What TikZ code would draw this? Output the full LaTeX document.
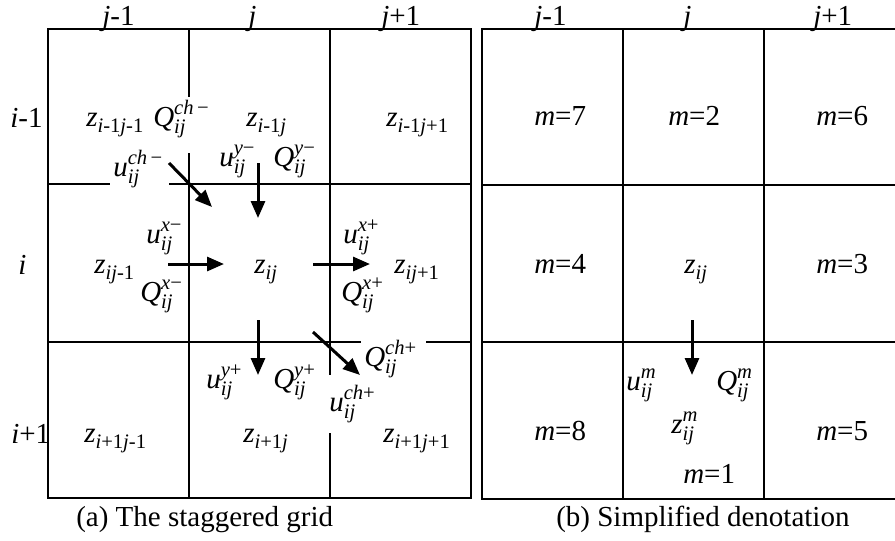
\documentclass[tikz,border=0pt]{standalone}
\usepackage{fontspec}
\setmainfont{Liberation Serif}
\usetikzlibrary{arrows.meta}
\newcommand\subsz{\fontsize{10.3}{11}\selectfont}
\newcommand\Sb[2]{\textit{#1}\mbox{\subsz\lower3pt\hbox{#2}}}
\newcommand\SbSp[3]{\textit{#1}\mbox{\subsz\setbox0=\hbox{#2}\setbox2=\hbox{#3}\dimen0=\ifdim\wd0>\wd2 \wd0\else\wd2\fi\raise6pt\copy0\kern-\wd0\lower3.8pt\copy2\kern-\wd2\kern\dimen0}}
\newcommand\ijx{\textit{ij}}
\begin{document}
\begin{tikzpicture}[x=0.5pt,y=-0.5pt, line width=1.3pt,
  lbl/.style={anchor=base west, inner sep=0pt, font=\fontsize{14.5}{16}\selectfont},
  arr/.style={line width=1.5pt, -{Triangle[length=8.5pt,width=7pt]}}]
\useasboundingbox (0,0) rectangle (895,541);
% ---------- left grid ----------
\draw (48,29) rectangle (471,498);
\draw (189,29) -- (189,97);
\draw (189,153) -- (189,498);
\draw (330,29) -- (330,375);
\draw (330,433) -- (330,498);
\draw (48,184) -- (110,184);
\draw (169,184) -- (471,184);
\draw (48,342) -- (361,342);
\draw (426,342) -- (471,342);
% ---------- right grid ----------
\draw (900,29) -- (482,29) -- (482,499) -- (900,499);
\draw (623,29) -- (623,499);
\draw (764,29) -- (764,499);
\draw (482,185) -- (900,185);
\draw (482,342) -- (900,342);
% ---------- arrows ----------
\coordinate (chms) at (169,163); \coordinate (chme) at (212,207);
\coordinate (yms) at (258,163);  \coordinate (yme) at (258,218);
\coordinate (xms) at (168,264);  \coordinate (xme) at (224,264);
\coordinate (xps) at (313,264);  \coordinate (xpe) at (370,264);
\coordinate (yps) at (258,320);  \coordinate (ype) at (258,375);
\coordinate (chps) at (313,332); \coordinate (chpe) at (360,375);
\coordinate (ms) at (692,320);   \coordinate (me) at (692,375);
\draw[arr] (chms) -- (chme);
\draw[arr] (yms) -- (yme);
\draw[arr] (xms) -- (xme);
\draw[arr] (xps) -- (xpe);
\draw[arr] (yps) -- (ype);
\draw[arr] (chps) -- (chpe);
\draw[arr] (ms) -- (me);
% ---------- left labels ----------
\node[lbl] (lj1) at (101,25) {\textit{j}-1};
\node[lbl] (lj2) at (247,25) {\textit{j}};
\node[lbl] (lj3) at (380,25) {\textit{j}+1};
\node[lbl] (li1) at (9,127) {\textit{i}-1};
\node[lbl] (li2) at (17,274) {\textit{i}};
\node[lbl] (li3) at (10,443) {\textit{i}+1};
\node[lbl] (z11) at (85,126) {\Sb{z}{\textit{i}-1\textit{j}-1}};
\node[lbl] (qchm) at (152,126) {\SbSp{Q}{\textit{ch}\,−}{\ijx}};
\node[lbl] (z12) at (245,126) {\Sb{z}{\textit{i}-1\textit{j}}};
\node[lbl] (z13) at (385,126) {\Sb{z}{\textit{i}-1\textit{j}+1}};
\node[lbl] (uchm) at (112,176) {\SbSp{u}{\textit{ch}\,−}{\ijx}};
\node[lbl] (uym) at (218,166) {\SbSp{u}{\textit{y}−}{\ijx}};
\node[lbl] (qym) at (272,166) {\SbSp{Q}{\textit{y}−}{\ijx}};
\node[lbl] (uxm) at (145,243) {\SbSp{u}{\textit{x}−}{\ijx}};
\node[lbl] (z21) at (93,273) {\Sb{z}{\textit{ij}-1}};
\node[lbl] (qxm) at (139,301) {\SbSp{Q}{\textit{x}−}{\ijx}};
\node[lbl] (z22) at (253,273) {\Sb{z}{\ijx}};
\node[lbl] (uxp) at (342,243) {\SbSp{u}{\textit{x}+}{\ijx}};
\node[lbl] (z23) at (393,273) {\Sb{z}{\textit{ij}+1}};
\node[lbl] (qxp) at (340,301) {\SbSp{Q}{\textit{x}+}{\ijx}};
\node[lbl] (qchp) at (363,366) {\SbSp{Q}{\textit{ch}+}{\ijx}};
\node[lbl] (uyp) at (205,388) {\SbSp{u}{\textit{y}+}{\ijx}};
\node[lbl] (qyp) at (272,388) {\SbSp{Q}{\textit{y}+}{\ijx}};
\node[lbl] (uchp) at (328,411) {\SbSp{u}{\textit{ch}+}{\ijx}};
\node[lbl] (z31) at (83,442) {\Sb{z}{\textit{i}+1\textit{j}-1}};
\node[lbl] (z32) at (242,442) {\Sb{z}{\textit{i}+1\textit{j}}};
\node[lbl] (z33) at (382,442) {\Sb{z}{\textit{i}+1\textit{j}+1}};
\node[lbl] (capa) at (75,526) {(a) The staggered grid};
% ---------- right labels ----------
\node[lbl] (rj1) at (533,25) {\textit{j}-1};
\node[lbl] (rj2) at (682,25) {\textit{j}};
\node[lbl] (rj3) at (812,25) {\textit{j}+1};
\node[lbl] (m7) at (533,125) {\textit{m}=7};
\node[lbl] (m2) at (667,125) {\textit{m}=2};
\node[lbl] (m6) at (815,125) {\textit{m}=6};
\node[lbl] (m4) at (533,273) {\textit{m}=4};
\node[lbl] (rz) at (683,273) {\Sb{z}{\ijx}};
\node[lbl] (m3) at (815,273) {\textit{m}=3};
\node[lbl] (um) at (625,390) {\SbSp{u}{\textit{m}}{\ijx}};
\node[lbl] (qm) at (715,390) {\SbSp{Q}{\textit{m}}{\ijx}};
\node[lbl] (zm) at (670,433) {\SbSp{z}{\textit{m}}{\ijx}};
\node[lbl] (m1) at (682,483) {\textit{m}=1};
\node[lbl] (m8) at (533,440) {\textit{m}=8};
\node[lbl] (m5) at (815,440) {\textit{m}=5};
\node[lbl] (capb) at (555,526) {(b) Simplified denotation};
\end{tikzpicture}
\end{document}
